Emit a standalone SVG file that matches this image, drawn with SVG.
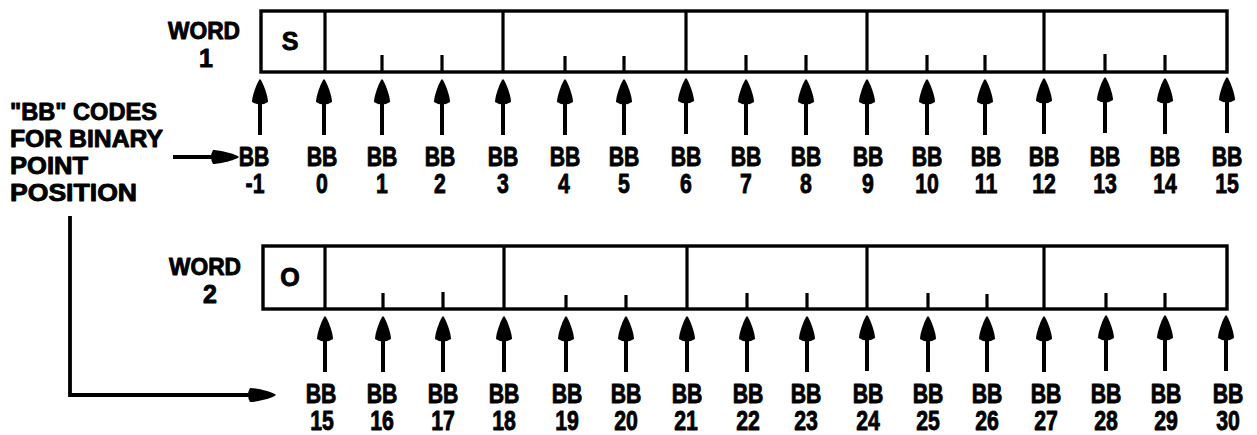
<svg xmlns="http://www.w3.org/2000/svg" width="1257" height="435" viewBox="0 0 1257 435">
<style>
text{font-family:"Liberation Sans",Arial,sans-serif;font-weight:bold;fill:#000;stroke:#000;stroke-width:0.9px;stroke-linejoin:round}
.lbl{font-size:28px;text-anchor:middle}
.side{font-size:24px}
.word{font-size:23px;text-anchor:middle}
.bit{font-size:25px;text-anchor:middle}
.box{fill:none;stroke:#000;stroke-width:3.4}
.div{stroke:#000;stroke-width:3.2}
.tick{stroke:#000;stroke-width:3.2}
.conn{stroke:#000;stroke-width:3.8;fill:none}
</style>
<defs>
<g id="up">
<line x1="0" y1="18" x2="0" y2="56" stroke="#000" stroke-width="4"/>
<path d="M0,0 C3,3 8,17 8,23 Q0,28 -8,23 C-8,17 -3,3 0,0 Z" fill="#000"/>
</g>
<path id="right" d="M0,0 C-3,-3 -19,-7 -26,-7 Q-30,0 -26,7 C-19,7 -3,3 0,0 Z" fill="#000"/>
</defs>
<rect width="1257" height="435" fill="#fff"/>

<g id="legend">
<text class="side" x="10" y="120" textLength="147" lengthAdjust="spacingAndGlyphs">"BB" CODES</text>
<text class="side" x="10" y="147" textLength="153" lengthAdjust="spacingAndGlyphs">FOR BINARY</text>
<text class="side" x="10" y="174" textLength="78" lengthAdjust="spacingAndGlyphs">POINT</text>
<text class="side" x="10" y="201" textLength="127" lengthAdjust="spacingAndGlyphs">POSITION</text>
</g>

<g id="word1">
<text class="word" x="204" y="39" textLength="72" lengthAdjust="spacingAndGlyphs">WORD</text>
<text class="bit" x="206" y="67">1</text>
<rect class="box" x="261" y="11" width="966" height="61"/>
<line class="div" x1="325" y1="11" x2="325" y2="72"/>
<line class="div" x1="503" y1="11" x2="503" y2="72"/>
<line class="div" x1="686" y1="11" x2="686" y2="72"/>
<line class="div" x1="867" y1="10" x2="867" y2="72"/>
<line class="div" x1="1044" y1="10" x2="1044" y2="72"/>
<g class="tick">
<line x1="382" y1="55" x2="382" y2="72"/><line x1="442" y1="55" x2="442" y2="72"/>
<line x1="565" y1="56" x2="565" y2="72"/><line x1="624" y1="56" x2="624" y2="72"/>
<line x1="746" y1="55" x2="746" y2="72"/><line x1="806" y1="55" x2="806" y2="72"/>
<line x1="927" y1="55" x2="927" y2="72"/><line x1="985" y1="55" x2="985" y2="72"/>
<line x1="1105" y1="54" x2="1105" y2="72"/><line x1="1165" y1="55" x2="1165" y2="72"/>
</g>
<text class="bit" x="290" y="50">S</text>
</g>

<g id="word2">
<text class="word" x="205" y="275" textLength="72" lengthAdjust="spacingAndGlyphs">WORD</text>
<text class="bit" x="210" y="303">2</text>
<rect class="box" x="263" y="246" width="964" height="63"/>
<line class="div" x1="325" y1="246" x2="325" y2="309"/>
<line class="div" x1="504" y1="246" x2="504" y2="309"/>
<line class="div" x1="687" y1="246" x2="687" y2="309"/>
<line class="div" x1="867" y1="246" x2="867" y2="309"/>
<line class="div" x1="1044" y1="246" x2="1044" y2="309"/>
<g class="tick">
<line x1="383" y1="293" x2="383" y2="309"/><line x1="443" y1="292" x2="443" y2="309"/>
<line x1="566" y1="295" x2="566" y2="309"/><line x1="626" y1="295" x2="626" y2="309"/>
<line x1="747" y1="293" x2="747" y2="309"/><line x1="807" y1="293" x2="807" y2="309"/>
<line x1="928" y1="293" x2="928" y2="309"/><line x1="987" y1="294" x2="987" y2="309"/>
<line x1="1106" y1="293" x2="1106" y2="309"/><line x1="1165" y1="293" x2="1165" y2="309"/>
</g>
<text class="bit" x="290" y="286">O</text>
</g>

<g id="connectors">
<line class="conn" x1="173" y1="157" x2="214" y2="157"/>
<use href="#right" x="239" y="157"/>
<polyline class="conn" points="70,216 70,395 250,395"/>
<use href="#right" x="276" y="395"/>
<use href="#up" x="260" y="79"/><use href="#up" x="324" y="79"/><use href="#up" x="382" y="79"/>
<use href="#up" x="442" y="79"/><use href="#up" x="503" y="79"/><use href="#up" x="565" y="79"/>
<use href="#up" x="624" y="79"/><use href="#up" x="686" y="78"/><use href="#up" x="746" y="79"/>
<use href="#up" x="806" y="79"/><use href="#up" x="867" y="79"/><use href="#up" x="927" y="79"/>
<use href="#up" x="985" y="79"/><use href="#up" x="1044" y="78"/><use href="#up" x="1105" y="77"/>
<use href="#up" x="1165" y="78"/><use href="#up" x="1227" y="77"/>
<use href="#up" x="325" y="316"/><use href="#up" x="383" y="316"/><use href="#up" x="443" y="316"/>
<use href="#up" x="504" y="316"/><use href="#up" x="566" y="316"/><use href="#up" x="626" y="316"/>
<use href="#up" x="687" y="316"/><use href="#up" x="747" y="316"/><use href="#up" x="807" y="316"/>
<use href="#up" x="867" y="315"/><use href="#up" x="928" y="316"/><use href="#up" x="987" y="316"/>
<use href="#up" x="1044" y="316"/><use href="#up" x="1106" y="315"/><use href="#up" x="1165" y="315"/>
<use href="#up" x="1226" y="315"/>
</g>

<g id="labels1">
<text class="lbl" transform="matrix(0.76 0 0 1 254 166)">BB</text><text class="lbl" transform="matrix(0.76 0 0 1 255 193)">-1</text>
<text class="lbl" transform="matrix(0.76 0 0 1 322 166)">BB</text><text class="lbl" transform="matrix(0.76 0 0 1 322 193)">0</text>
<text class="lbl" transform="matrix(0.76 0 0 1 382 166)">BB</text><text class="lbl" transform="matrix(0.76 0 0 1 382 193)">1</text>
<text class="lbl" transform="matrix(0.76 0 0 1 440 166)">BB</text><text class="lbl" transform="matrix(0.76 0 0 1 440 193)">2</text>
<text class="lbl" transform="matrix(0.76 0 0 1 503 166)">BB</text><text class="lbl" transform="matrix(0.76 0 0 1 503 193)">3</text>
<text class="lbl" transform="matrix(0.76 0 0 1 565 166)">BB</text><text class="lbl" transform="matrix(0.76 0 0 1 564 193)">4</text>
<text class="lbl" transform="matrix(0.76 0 0 1 624 166)">BB</text><text class="lbl" transform="matrix(0.76 0 0 1 624 193)">5</text>
<text class="lbl" transform="matrix(0.76 0 0 1 686 166)">BB</text><text class="lbl" transform="matrix(0.76 0 0 1 686 193)">6</text>
<text class="lbl" transform="matrix(0.76 0 0 1 746 166)">BB</text><text class="lbl" transform="matrix(0.76 0 0 1 746 193)">7</text>
<text class="lbl" transform="matrix(0.76 0 0 1 806 166)">BB</text><text class="lbl" transform="matrix(0.76 0 0 1 806 193)">8</text>
<text class="lbl" transform="matrix(0.76 0 0 1 868 166)">BB</text><text class="lbl" transform="matrix(0.76 0 0 1 868 193)">9</text>
<text class="lbl" transform="matrix(0.76 0 0 1 927 166)">BB</text><text class="lbl" transform="matrix(0.76 0 0 1 927 193)">10</text>
<text class="lbl" transform="matrix(0.76 0 0 1 986 166)">BB</text><text class="lbl" transform="matrix(0.76 0 0 1 986 193)">11</text>
<text class="lbl" transform="matrix(0.76 0 0 1 1044 166)">BB</text><text class="lbl" transform="matrix(0.76 0 0 1 1044 193)">12</text>
<text class="lbl" transform="matrix(0.76 0 0 1 1105 166)">BB</text><text class="lbl" transform="matrix(0.76 0 0 1 1105 193)">13</text>
<text class="lbl" transform="matrix(0.76 0 0 1 1165 166)">BB</text><text class="lbl" transform="matrix(0.76 0 0 1 1165 193)">14</text>
<text class="lbl" transform="matrix(0.76 0 0 1 1227 166)">BB</text><text class="lbl" transform="matrix(0.76 0 0 1 1227 193)">15</text>
</g>

<g id="labels2">
<text class="lbl" transform="matrix(0.76 0 0 1 321 403)">BB</text><text class="lbl" transform="matrix(0.76 0 0 1 322 430)">15</text>
<text class="lbl" transform="matrix(0.76 0 0 1 382 403)">BB</text><text class="lbl" transform="matrix(0.76 0 0 1 382 430)">16</text>
<text class="lbl" transform="matrix(0.76 0 0 1 443 403)">BB</text><text class="lbl" transform="matrix(0.76 0 0 1 443 430)">17</text>
<text class="lbl" transform="matrix(0.76 0 0 1 504 403)">BB</text><text class="lbl" transform="matrix(0.76 0 0 1 504 430)">18</text>
<text class="lbl" transform="matrix(0.76 0 0 1 567 403)">BB</text><text class="lbl" transform="matrix(0.76 0 0 1 567 430)">19</text>
<text class="lbl" transform="matrix(0.76 0 0 1 626 403)">BB</text><text class="lbl" transform="matrix(0.76 0 0 1 626 430)">20</text>
<text class="lbl" transform="matrix(0.76 0 0 1 687 403)">BB</text><text class="lbl" transform="matrix(0.76 0 0 1 686 430)">21</text>
<text class="lbl" transform="matrix(0.76 0 0 1 748 403)">BB</text><text class="lbl" transform="matrix(0.76 0 0 1 748 430)">22</text>
<text class="lbl" transform="matrix(0.76 0 0 1 806 403)">BB</text><text class="lbl" transform="matrix(0.76 0 0 1 806 430)">23</text>
<text class="lbl" transform="matrix(0.76 0 0 1 868 403)">BB</text><text class="lbl" transform="matrix(0.76 0 0 1 868 430)">24</text>
<text class="lbl" transform="matrix(0.76 0 0 1 928 403)">BB</text><text class="lbl" transform="matrix(0.76 0 0 1 928 430)">25</text>
<text class="lbl" transform="matrix(0.76 0 0 1 987 403)">BB</text><text class="lbl" transform="matrix(0.76 0 0 1 987 430)">26</text>
<text class="lbl" transform="matrix(0.76 0 0 1 1046 403)">BB</text><text class="lbl" transform="matrix(0.76 0 0 1 1046 430)">27</text>
<text class="lbl" transform="matrix(0.76 0 0 1 1106 403)">BB</text><text class="lbl" transform="matrix(0.76 0 0 1 1106 430)">28</text>
<text class="lbl" transform="matrix(0.76 0 0 1 1166 403)">BB</text><text class="lbl" transform="matrix(0.76 0 0 1 1166 430)">29</text>
<text class="lbl" transform="matrix(0.76 0 0 1 1228 403)">BB</text><text class="lbl" transform="matrix(0.76 0 0 1 1228 430)">30</text>
</g>
</svg>
